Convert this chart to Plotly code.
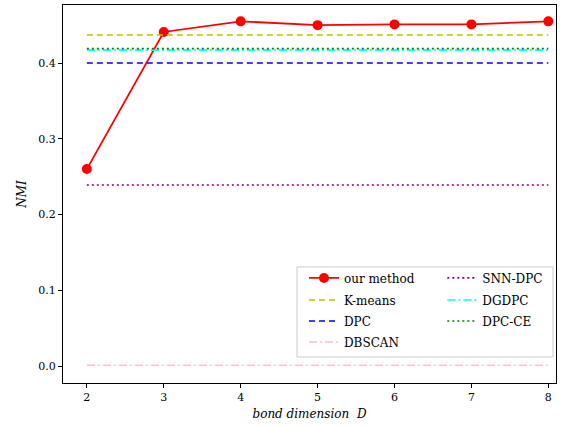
import plotly.graph_objects as go

D = [2, 3, 4, 5, 6, 7, 8]
our_method = [0.260, 0.441, 0.455, 0.450, 0.451, 0.451, 0.455]
kmeans = 0.437
dpc = 0.400
dbscan = 0.001
snn_dpc = 0.239
dgdpc = 0.417
dpc_ce = 0.419

font = "'DejaVu Serif', 'Liberation Serif', serif"
fig = go.Figure()

fig.add_trace(go.Scatter(x=D, y=our_method, mode="lines+markers", name="our method",
                         line=dict(color="red", width=1.8), showlegend=True,
                         marker=dict(color="red", size=10), legend="legend"))

def hline(val, name, color, dash, leg):
    fig.add_trace(go.Scatter(x=[D[0], D[-1]], y=[val, val], mode="lines", name=name,
                             showlegend=True,
                             line=dict(color=color, width=1.6, dash=dash), legend=leg))

hline(kmeans, "K-means", "#bfbf00", "6px,4px", "legend2")
hline(dpc, "DPC", "blue", "6px,4px", "legend3")
hline(dbscan, "DBSCAN", "pink", "8px,3px,2px,3px", "legend4")
hline(snn_dpc, "SNN-DPC", "purple", "2px,3px", "legend5")
hline(dgdpc, "DGDPC", "cyan", "8px,3px,2px,3px", "legend6")
hline(dpc_ce, "DPC-CE", "green", "2px,3px", "legend7")

axis_common = dict(showgrid=False, zeroline=False, showline=True, linecolor="black",
                   linewidth=1, mirror=True, ticks="outside", ticklen=4,
                   tickcolor="black", tickfont=dict(family=font, size=11, color="black"))

col_x = [0.4888, 0.7694]
row_y = [0.278, 0.2196, 0.164, 0.1085]
positions = [(0, 0), (0, 1), (0, 2), (0, 3), (1, 0), (1, 1), (1, 2)]
legends = {}
for i, (c, r) in enumerate(positions):
    key = "legend" if i == 0 else f"legend{i+1}"
    legends[key] = dict(x=col_x[c], y=row_y[r], xanchor="left", yanchor="middle",
                        bgcolor="rgba(0,0,0,0)", borderwidth=0,
                        font=dict(family=font, size=12), itemwidth=30)

fig.update_layout(
    width=574, height=426,
    showlegend=True,
    margin=dict(l=63, r=18, t=5, b=43),
    plot_bgcolor="white", paper_bgcolor="white",
    font=dict(family=font, size=12, color="black"),
    xaxis=dict(range=[1.69, 8.1], tickvals=D, ticktext=[str(d) for d in D],
               title=dict(text="<i>bond dimension  D</i>", font=dict(family=font, size=12), standoff=6),
               **axis_common),
    yaxis=dict(range=[-0.0224, 0.4766], tickvals=[0.0, 0.1, 0.2, 0.3, 0.4],
               ticktext=["0.0", "0.1", "0.2", "0.3", "0.4"],
               title=dict(text="<i>NMI</i>", font=dict(family=font, size=12), standoff=9),
               **axis_common),
    shapes=[dict(type="rect", xref="paper", yref="paper", x0=0.4746, x1=0.994, y0=0.0688, y1=0.307,
                 line=dict(color="#cccccc", width=1), fillcolor="rgba(255,255,255,0.8)", layer="below")],
    **legends,
)

fig.write_html("out.html")
